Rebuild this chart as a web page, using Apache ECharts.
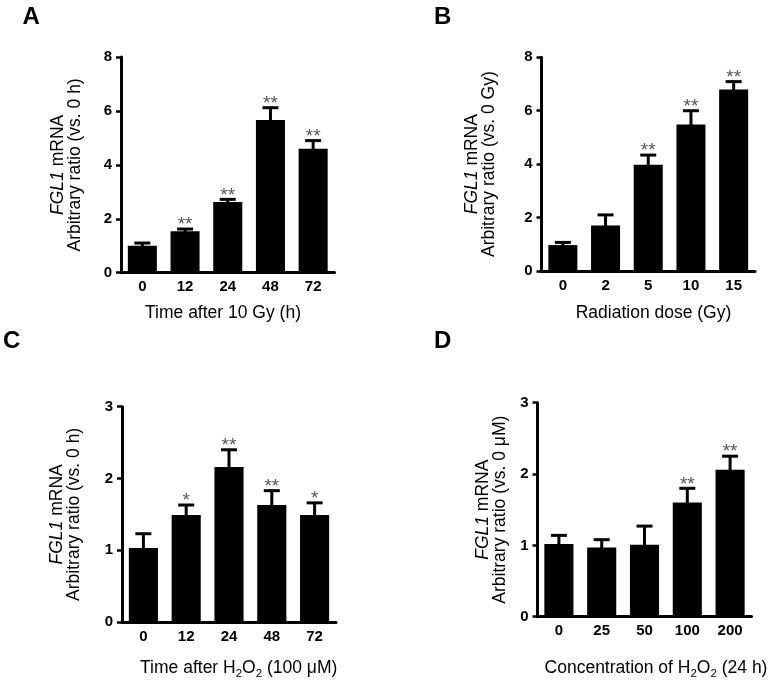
<!DOCTYPE html>
<html>
<head>
<meta charset="utf-8">
<script src="https://cdn.jsdelivr.net/npm/echarts@6/dist/echarts.min.js"></script>
<style>html,body{margin:0;padding:0;background:#fff}#c{width:776px;height:689px}</style>
</head>
<body>
<div id="c"></div>
<script>
// ---- data ----
const catsA = ['0', '12', '24', '48', '72'];
const valsA = [1.0, 1.54, 2.62, 5.66, 4.6];
const semA = [0.1, 0.08, 0.1, 0.46, 0.3];
const starsA = ['', '**', '**', '**', '**'];

const catsB = ['0', '2', '5', '10', '15'];
const valsB = [0.97, 1.7, 3.98, 5.48, 6.79];
const semB = [0.1, 0.4, 0.36, 0.52, 0.3];
const starsB = ['', '', '**', '**', '**'];

const catsC = ['0', '12', '24', '48', '72'];
const valsC = [1.03, 1.49, 2.16, 1.63, 1.49];
const semC = [0.2, 0.14, 0.24, 0.2, 0.17];
const starsC = ['', '*', '**', '**', '*'];

const catsD = ['0', '25', '50', '100', '200'];
const valsD = [1.02, 0.97, 1.01, 1.60, 2.06];
const semD = [0.12, 0.11, 0.26, 0.2, 0.19];
const starsD = ['', '', '', '**', '**'];

const yTicks68 = { min: 0, max: 8, interval: 2 };
const yTicks3 = { min: 0, max: 3, interval: 1 };

// ---- chart ----
const FONT = '"Liberation Sans", Arial, Helvetica, sans-serif';
const chart = echarts.init(document.getElementById('c'), null, { renderer: 'canvas' });

const grids = [
  { left: 121, top: 57, width: 213.5, height: 215.7 },
  { left: 541.5, top: 57.3, width: 213.5, height: 213.7 },
  { left: 122, top: 406.7, width: 214, height: 215.3 },
  { left: 537.5, top: 402.7, width: 214, height: 214 }
];

const panels = [
  { cats: catsA, vals: valsA, sem: semA, stars: starsA, y: yTicks68, yname: '{i|FGL1} mRNA\nArbitrary ratio (vs. 0 h)', gap: 37 },
  { cats: catsB, vals: valsB, sem: semB, stars: starsB, y: yTicks68, yname: '{i|FGL1} mRNA\nArbitrary ratio (vs. 0 Gy)', gap: 44 },
  { cats: catsC, vals: valsC, sem: semC, stars: starsC, y: yTicks3, yname: '{i|FGL1} mRNA\nArbitrary ratio (vs. 0 h)', gap: 39 },
  { cats: catsD, vals: valsD, sem: semD, stars: starsD, y: yTicks3, yname: '{i|FGL1} mRNA\nArbitrary ratio (vs. 0 \u03bcM)', gap: 29 }
];

const xAxes = [], yAxes = [], series = [];
panels.forEach((p, k) => {
  xAxes.push({
    type: 'category', gridIndex: k, data: p.cats,
    axisLine: { show: true, lineStyle: { color: '#000', width: 3 } },
    axisTick: { show: false },
    axisLabel: { color: '#000', fontFamily: FONT, fontWeight: 'bold', fontSize: 15, margin: 7 },
    splitLine: { show: false }
  });
  yAxes.push({
    type: 'value', gridIndex: k, min: p.y.min, max: p.y.max, interval: p.y.interval,
    axisLine: { show: true, lineStyle: { color: '#000', width: 3 } },
    axisTick: { show: true, length: 5, lineStyle: { color: '#000', width: 2.5 } },
    axisLabel: { color: '#000', fontFamily: FONT, fontWeight: 'bold', fontSize: 15, margin: 9 },
    splitLine: { show: false },
    name: p.yname, nameLocation: 'middle', nameRotate: 90, nameGap: p.gap,
    nameTextStyle: {
      color: '#000', fontFamily: FONT, fontSize: 17.5, lineHeight: 17,
      rich: { i: { fontStyle: 'italic', color: '#000', fontFamily: FONT, fontSize: 17.5, lineHeight: 17 } }
    }
  });
  series.push({
    type: 'bar', xAxisIndex: k, yAxisIndex: k, data: p.vals,
    barCategoryGap: '32%', itemStyle: { color: '#000' }, silent: true, animation: false
  });
  const stars = p.stars;
  series.push({
    type: 'custom', xAxisIndex: k, yAxisIndex: k, animation: false, silent: true, z: 5,
    data: p.vals.map((v, i) => [i, v, p.sem[i]]),
    renderItem: function (params, api) {
      const i = api.value(0), v = api.value(1), e = api.value(2);
      const base = api.coord([i, v]);
      const top = api.coord([i, v + e]);
      const half = 8;
      const children = [
        { type: 'line', shape: { x1: base[0], y1: base[1] + 1, x2: top[0], y2: top[1] }, style: { stroke: '#000', lineWidth: 3 } },
        { type: 'line', shape: { x1: top[0] - half, y1: top[1], x2: top[0] + half, y2: top[1] }, style: { stroke: '#000', lineWidth: 3 } }
      ];
      const s = stars[params.dataIndex];
      if (s) {
        children.push({
          type: 'text', x: top[0], y: top[1] - 4,
          style: { text: s, fill: '#555', font: '19px ' + FONT, align: 'center', verticalAlign: 'middle' }
        });
      }
      return { type: 'group', children: children };
    }
  });
});

function label(txt, x, y, size, weight, align) {
  return {
    type: 'text', x: x, y: y, silent: true,
    style: { text: txt, fill: '#000', font: (weight || 'normal') + ' ' + size + 'px ' + FONT, align: align || 'center', verticalAlign: 'middle' }
  };
}
function subLabel(txt, x, y) {
  return {
    type: 'text', x: x, y: y, silent: true,
    style: {
      text: txt, align: 'center', verticalAlign: 'middle',
      rich: {
        n: { fill: '#000', fontFamily: FONT, fontSize: 17.5, lineHeight: 24, verticalAlign: 'middle' },
        s: { fill: '#000', fontFamily: FONT, fontSize: 11.5, lineHeight: 24, verticalAlign: 'bottom' }
      }
    }
  };
}

const graphics = [
  label('A', 22.5, 17.5, 24, 'bold', 'left'),
  label('B', 434, 17.5, 24, 'bold', 'left'),
  label('C', 3, 341.5, 24, 'bold', 'left'),
  label('D', 434, 341.5, 24, 'bold', 'left'),
  label('Time after 10 Gy (h)', 223, 313, 17.5),
  label('Radiation dose (Gy)', 653.5, 313, 17.5),
  subLabel('{n|Time after H}{s|2}{n|O}{s|2}{n| (100 \u03bcM)}', 238.7, 668),
  subLabel('{n|Concentration of H}{s|2}{n|O}{s|2}{n| (24 h)}', 656, 668)
];

chart.setOption({
  animation: false,
  backgroundColor: '#fff',
  grid: grids,
  xAxis: xAxes,
  yAxis: yAxes,
  series: series,
  graphic: graphics
});
</script>
</body>
</html>
